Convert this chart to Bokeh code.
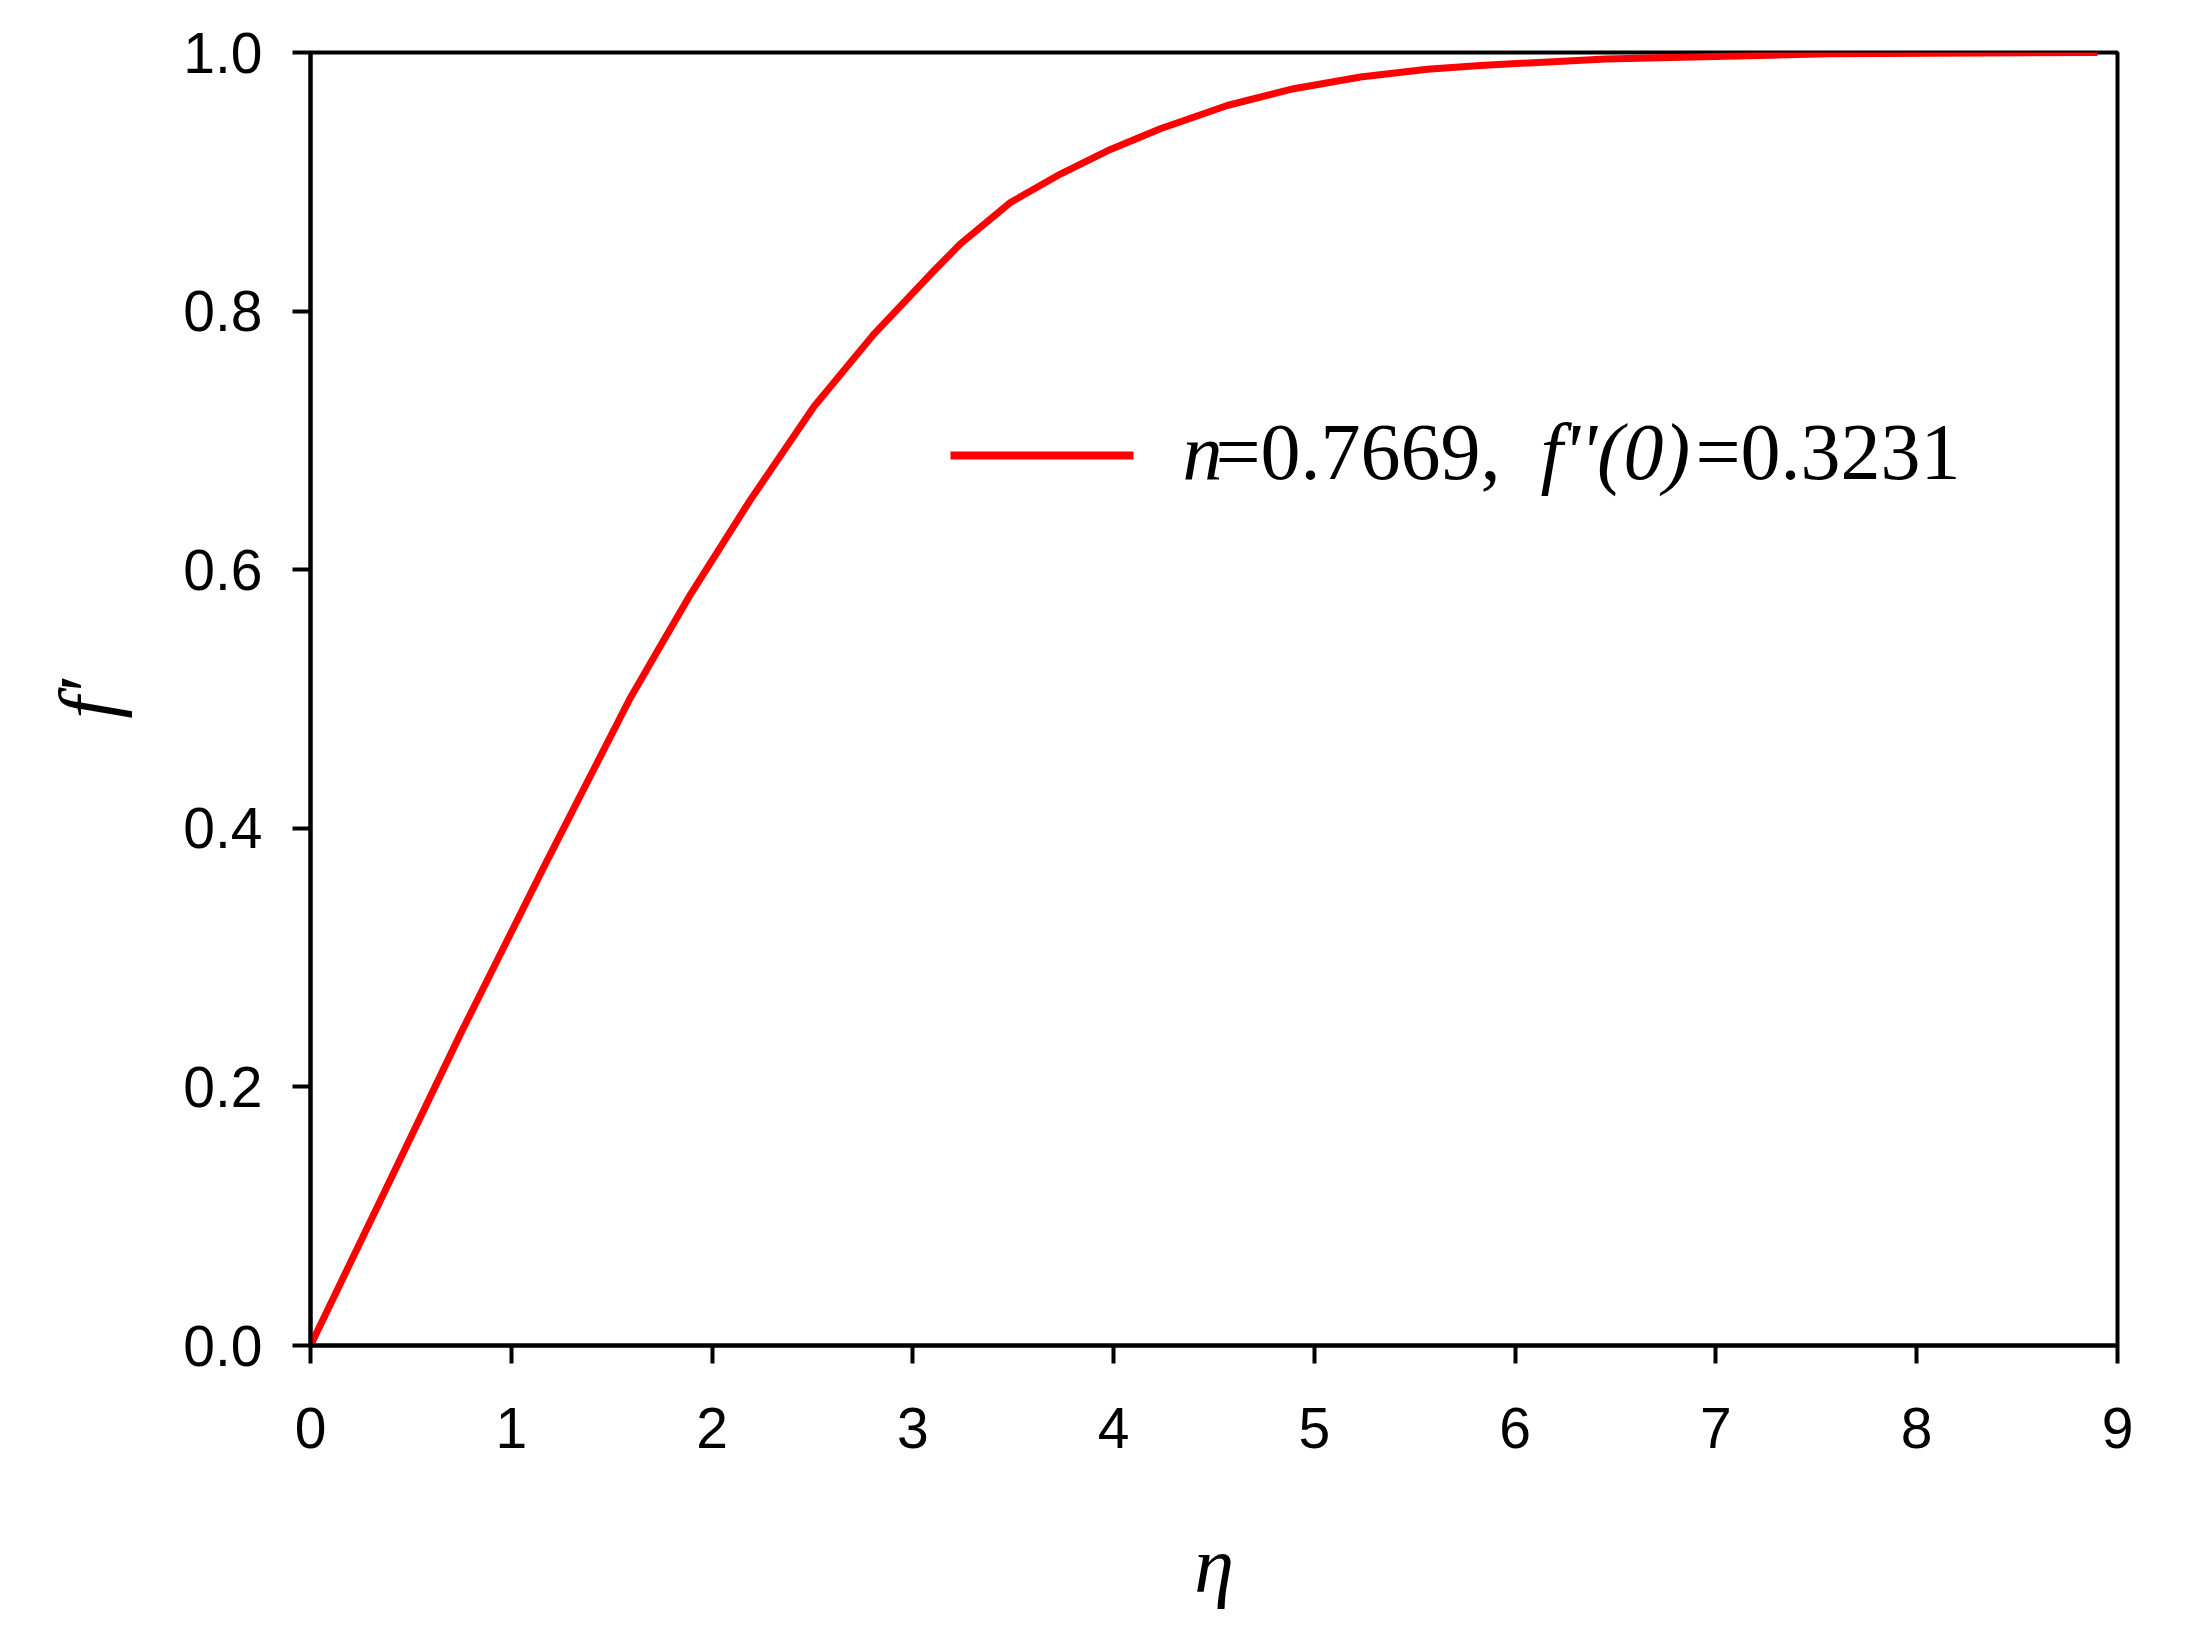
from bokeh.plotting import figure
from bokeh.models import Range1d, PrintfTickFormatter
from bokeh.embed import file_html
from bokeh.resources import INLINE
from bokeh.core.properties import value

# ---- data ----
eta = [0.0, 0.357, 0.747, 1.162, 1.59, 1.75, 1.893, 2.191, 2.507, 2.805, 3.104,
       3.237, 3.486, 3.735, 3.984, 4.233, 4.566, 4.897, 5.23, 5.562, 5.827,
       6.45, 7.0, 7.56, 8.90]
fprime = [0.0, 0.115, 0.241, 0.370, 0.500, 0.543, 0.581, 0.654, 0.726, 0.782, 0.831,
          0.852, 0.884, 0.906, 0.925, 0.941, 0.959, 0.972, 0.981, 0.987, 0.990,
          0.995, 0.997, 0.999, 1.000]
x_ticks = [0, 1, 2, 3, 4, 5, 6, 7, 8, 9]
y_ticks = [0.0, 0.2, 0.4, 0.6, 0.8, 1.0]
legend_parts = ["n", "=0.7669, ", "f''(0)", "=0.3231"]
legend_italic = [True, False, True, False]

# ---- layout ----
FW, FH = 1807, 1293
X0, X1, Y0, Y1 = 0, 9, 0, 1
LEFT, TOP = 310, 52

p = figure(frame_width=FW, frame_height=FH,
           x_range=Range1d(X0, X1), y_range=Range1d(Y0, Y1),
           output_backend="svg", toolbar_location=None,
           min_border_left=LEFT, min_border_top=TOP,
           min_border_right=60, min_border_bottom=270)
p.background_fill_color = "white"
p.border_fill_color = "white"
p.grid.visible = False
p.outline_line_color = "black"
p.outline_line_width = 4
p.outline_line_alpha = 1

for ax in (p.xaxis[0], p.yaxis[0]):
    ax.axis_line_width = 4
    ax.axis_line_color = "black"
    ax.major_tick_line_width = 4
    ax.major_tick_line_color = "black"
    ax.major_tick_out = 18
    ax.major_tick_in = 0
    ax.minor_tick_line_color = None
    ax.major_label_text_font = "Liberation Sans"
    ax.major_label_text_font_size = "57px"
    ax.major_label_text_color = "black"
    ax.axis_label_text_font = "Liberation Serif"
    ax.axis_label_text_font_style = "italic"
    ax.axis_label_text_font_size = "80px"
    ax.axis_label_text_color = "black"

p.xaxis.ticker = x_ticks
p.yaxis.ticker = y_ticks
p.yaxis.formatter = PrintfTickFormatter(format="%.1f")
p.xaxis.major_label_standoff = 44
p.yaxis.major_label_standoff = 30
p.xaxis.axis_label = "η"
p.yaxis.axis_label = "f′"
p.xaxis.axis_label_standoff = 70
p.yaxis.axis_label_standoff = 48

p.line(eta, fprime, line_color="#ff0000", line_width=7, line_join="round")

# ---- legend (manual, mixed italic) ----
def px_to_x(px):
    return X0 + (px - LEFT) / FW * (X1 - X0)

def py_to_y(py):
    return Y0 + (TOP + FH - py) / FH * (Y1 - Y0)

p.line([px_to_x(950), px_to_x(1133)], [py_to_y(455)] * 2,
       line_color="#ff0000", line_width=8)
part_px = [1182, 1215, 1540, 1695]
for txt, it, xp in zip(legend_parts, legend_italic, part_px):
    p.text(x=[px_to_x(xp)], y=[py_to_y(451)], text=[txt],
           text_font=value("Liberation Serif"),
           text_font_style="italic" if it else "normal",
           text_font_size="80px", text_color="black",
           text_baseline="alphabetic", text_align="left")

open("out.html", "w").write(file_html(p, INLINE))
